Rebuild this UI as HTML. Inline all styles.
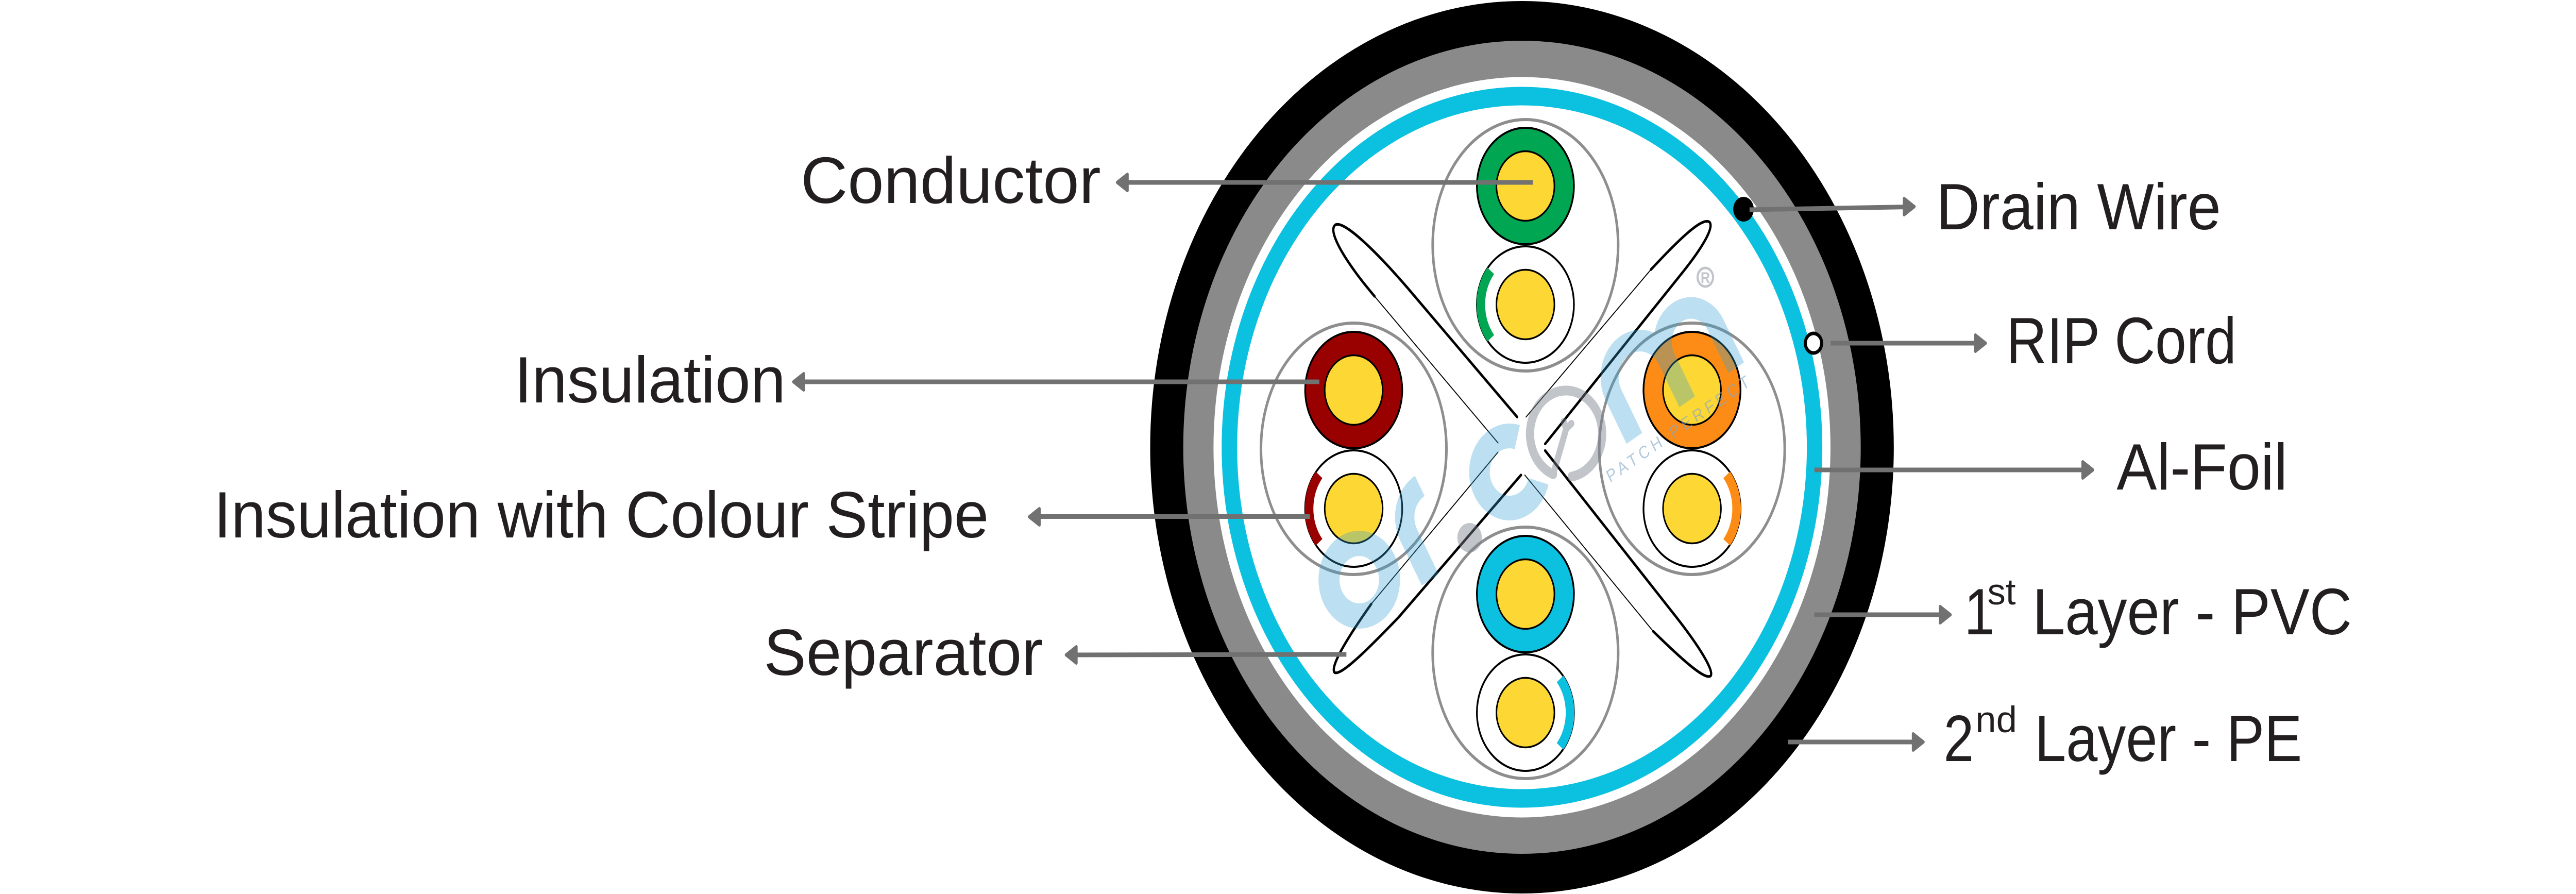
<!DOCTYPE html>
<html>
<head>
<meta charset="utf-8">
<meta name="viewport" content="width=device-width, initial-scale=1">
<style>
  html, body { margin: 0; padding: 0; background: #fff; width: 100%; height: 100%; overflow: hidden; }
  svg { display: block; width: 100vw; height: 100vh; }
  .lbl { font-family: "Liberation Sans", Arial, sans-serif; font-size: 127px; fill: #231f20; }
  .sup { font-family: "Liberation Sans", Arial, sans-serif; font-size: 71px; fill: #231f20; }
</style>
</head>
<body>
<svg viewBox="0 0 6000 1735" preserveAspectRatio="none" xmlns="http://www.w3.org/2000/svg">
  <rect x="0" y="0" width="6000" height="1735" fill="#fff"/>

  <!-- cable sheath layers -->
  <circle cx="3545" cy="868" r="866" fill="#000"/>
  <circle cx="3545" cy="868" r="789" fill="#8a8a8a"/>
  <circle cx="3545" cy="868" r="718.5" fill="#fff"/>
  <circle cx="3545" cy="868" r="699.5" fill="#0cc0df"/>
  <circle cx="3545" cy="868" r="663.5" fill="#fff"/>

  <!-- pair enclosures -->
  <g fill="none" stroke="#8e8e8e" stroke-width="6">
    <ellipse cx="3553" cy="476" rx="216" ry="244"/>
    <ellipse cx="3153" cy="871" rx="216" ry="244"/>
    <ellipse cx="3941" cy="871" rx="216" ry="244"/>
    <ellipse cx="3553" cy="1267" rx="216" ry="244"/>
  </g>

  <!-- separator arms -->
  <g transform="translate(3080 400) scale(0.5931)" fill="none" stroke="#000" stroke-linecap="round" stroke-linejoin="round">
    <path d="M765,690 L335,268 C215,152 82,42 50,62 C28,78 62,135 112,195 C145,235 175,265 205,295" stroke-width="9"/>
    <path d="M205,295 L690,775" stroke-width="3.5"/>
    <path d="M800,690 L1290,208" stroke-width="3.5"/>
    <path d="M1290,208 C1405,105 1492,36 1520,52 C1540,68 1495,135 1400,232 L875,778" stroke-width="9"/>
    <path d="M875,800 L1390,1345 C1468,1428 1540,1518 1525,1537 C1505,1552 1420,1490 1300,1392" stroke-width="9"/>
    <path d="M1300,1392 L795,880" stroke-width="3.5"/>
    <path d="M780,880 L300,1345 C190,1440 72,1540 48,1526 C30,1508 92,1420 192,1302" stroke-width="9"/>
    <path d="M192,1302 L690,805" stroke-width="3.5"/>
  </g>

  <!-- pairs -->
  <g stroke="#000">
    <circle cx="3553" cy="361" r="113" fill="#00a651" stroke-width="4"/>
    <circle cx="3553" cy="361" r="67.5" fill="#fdd734" stroke-width="3.5"/>
    <circle cx="3553" cy="591" r="113" fill="#fff" stroke-width="4"/>
    <circle cx="3553" cy="591" r="67.5" fill="#fdd734" stroke-width="3.5"/>

    <circle cx="3153" cy="757" r="113" fill="#990000" stroke-width="4"/>
    <circle cx="3153" cy="757" r="67.5" fill="#fdd734" stroke-width="3.5"/>
    <circle cx="3153" cy="987" r="113" fill="#fff" stroke-width="4"/>
    <circle cx="3153" cy="987" r="67.5" fill="#fdd734" stroke-width="3.5"/>

    <circle cx="3941" cy="757" r="113" fill="#fd8c16" stroke-width="4"/>
    <circle cx="3941" cy="757" r="67.5" fill="#fdd734" stroke-width="3.5"/>
    <circle cx="3941" cy="987" r="113" fill="#fff" stroke-width="4"/>
    <circle cx="3941" cy="987" r="67.5" fill="#fdd734" stroke-width="3.5"/>

    <circle cx="3553" cy="1153" r="113" fill="#0cc0df" stroke-width="4"/>
    <circle cx="3553" cy="1153" r="67.5" fill="#fdd734" stroke-width="3.5"/>
    <circle cx="3553" cy="1383" r="113" fill="#fff" stroke-width="4"/>
    <circle cx="3553" cy="1383" r="67.5" fill="#fdd734" stroke-width="3.5"/>
  </g>

  <!-- colour stripes -->
  <g fill="none" stroke-width="20" stroke-linecap="butt">
    <path d="M3472.2,525.6 A104,104 0 0 0 3472.2,656.4" stroke="#00a651"/>
    <path d="M3072.2,921.6 A104,104 0 0 0 3072.2,1052.4" stroke="#990000"/>
    <path d="M4021.8,921.6 A104,104 0 0 1 4021.8,1052.4" stroke="#fd8c16"/>
    <path d="M3633.8,1317.6 A104,104 0 0 1 3633.8,1448.4" stroke="#0cc0df"/>
  </g>

  <!-- drain wire & rip cord -->
  <circle cx="4061" cy="406" r="24" fill="#000"/>
  <circle cx="4224" cy="666" r="19" fill="#fff" stroke="#000" stroke-width="7"/>

  <!-- watermark -->
  <g opacity="0.32" fill="none" stroke="rgb(49,161,212)">
    <circle cx="3166" cy="1125" r="70.5" stroke-width="49"/>
    <path d="M3583.5,934.1 A70,70 0 1 1 3534.0,848.4" stroke-width="48"/>
    <g transform="translate(3806.7 850.7) rotate(-30)">
      <path d="M0,0 V-96 A71,71 0 0 1 142,-96 V0 M142,-96 A66,66 0 0 1 274,-96 V0" stroke-width="42"/>
      <path d="M-549,0 V-100 A70,70 0 0 1 -479,-170" stroke-width="45"/>
    </g>
  </g>
  <g opacity="0.45">
    <circle cx="3423" cy="1043.5" r="28.5" fill="rgb(120,128,140)"/>
    <path d="M3617.5,920.3 A84,84 0 1 1 3660.7,924.9" fill="none" stroke="rgb(120,128,140)" stroke-width="19" stroke-linecap="round"/>
    <path d="M3617,922 L3648,832 M3648,832 L3642,818 M3648,832 L3660,822" fill="none" stroke="rgb(120,128,140)" stroke-width="14" stroke-linecap="round"/>
    <circle cx="3972" cy="538" r="18" fill="none" stroke="rgb(120,128,140)" stroke-width="5"/>
    <text x="3972" y="549" text-anchor="middle" font-family="Liberation Sans, Arial, sans-serif" font-weight="bold" font-size="30" fill="rgb(120,128,140)">R</text>
  </g>
  <text x="3750" y="937" transform="rotate(-30 3750 937)" font-family="Liberation Sans, Arial, sans-serif" font-size="34" fill="#7fa6c8" opacity="0.6" textLength="378" lengthAdjust="spacing">PATCH PERFECT</text>

  <!-- connector lines -->
  <g stroke="#717171" stroke-width="9" fill="none">
    <line x1="3570" y1="354" x2="2615" y2="354"/>
    <line x1="3073" y1="741" x2="1861" y2="741"/>
    <line x1="3051" y1="1002.5" x2="2410" y2="1002.5"/>
    <line x1="3136" y1="1270" x2="2496" y2="1271"/>
    <line x1="4075" y1="407" x2="4446" y2="401.5"/>
    <line x1="4264" y1="666" x2="4612" y2="666"/>
    <line x1="4226" y1="912" x2="4862" y2="912"/>
    <line x1="4226" y1="1193" x2="4530" y2="1193"/>
    <line x1="4164" y1="1440" x2="4467" y2="1440"/>
  </g>
  <!-- arrowheads -->
  <g fill="#717171" stroke="#717171" stroke-width="6" stroke-linejoin="round">
    <polygon points="2602,354 2626,338 2626,370"/>
    <polygon points="1848,741 1872,725 1872,757"/>
    <polygon points="2397,1003 2421,987 2421,1019"/>
    <polygon points="2483,1271 2507,1255 2507,1287"/>
    <polygon points="4459,401 4435,385 4435,417"/>
    <polygon points="4625,666 4601,650 4601,682"/>
    <polygon points="4875,912 4851,896 4851,928"/>
    <polygon points="4543,1193 4519,1177 4519,1209"/>
    <polygon points="4480,1440 4456,1424 4456,1456"/>
  </g>

  <!-- labels -->
  <text class="lbl" x="1865" y="394" textLength="699" lengthAdjust="spacingAndGlyphs">Conductor</text>
  <text class="lbl" x="1198" y="781" textLength="632" lengthAdjust="spacingAndGlyphs">Insulation</text>
  <text class="lbl" x="498" y="1043" textLength="1805" lengthAdjust="spacingAndGlyphs">Insulation with Colour Stripe</text>
  <text class="lbl" x="1779" y="1310" textLength="650" lengthAdjust="spacingAndGlyphs">Separator</text>

  <text class="lbl" x="4510" y="445" textLength="663" lengthAdjust="spacingAndGlyphs">Drain Wire</text>
  <text class="lbl" x="4673" y="705" textLength="536" lengthAdjust="spacingAndGlyphs">RIP Cord</text>
  <text class="lbl" x="4930" y="950" textLength="398" lengthAdjust="spacingAndGlyphs">Al-Foil</text>

  <text class="lbl" x="4575" y="1231">1</text>
  <text class="sup" x="4629" y="1173" textLength="66" lengthAdjust="spacingAndGlyphs">st</text>
  <text class="lbl" x="4734" y="1231" textLength="744" lengthAdjust="spacingAndGlyphs">Layer - PVC</text>

  <text class="lbl" x="4527" y="1477">2</text>
  <text class="sup" x="4601" y="1421" textLength="97" lengthAdjust="spacingAndGlyphs">nd</text>
  <text class="lbl" x="4739" y="1477" textLength="623" lengthAdjust="spacingAndGlyphs">Layer - PE</text>
</svg>
</body>
</html>
